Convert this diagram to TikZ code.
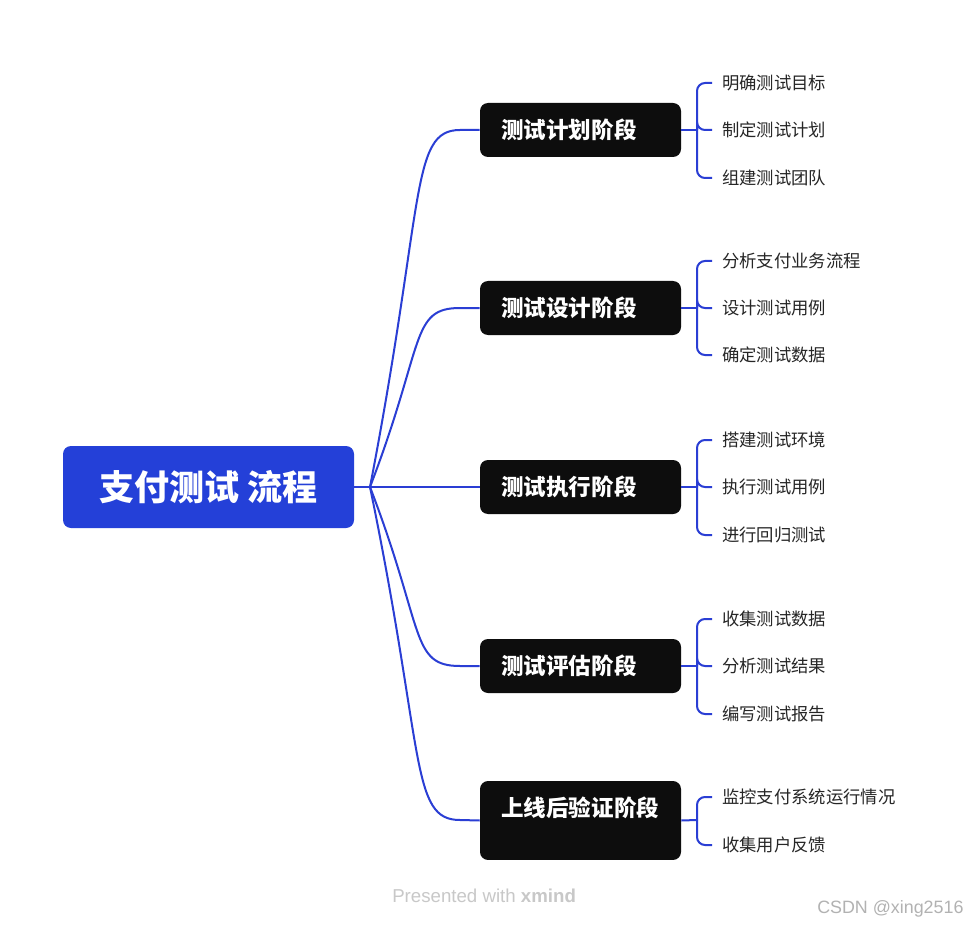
\documentclass[tikz,border=0pt]{standalone}
\usepackage{fontspec}
\setmainfont{Liberation Sans}
\newfontfamily\cjk{Noto Sans CJK SC}
\definecolor{xblue}{RGB}{36,64,216}
\definecolor{xline}{RGB}{42,62,212}
\definecolor{xdark}{RGB}{13,13,13}
\definecolor{xtext}{RGB}{38,38,38}
\tikzset{
  rootbox/.style={fill=xblue, rounded corners=6pt, minimum width=218.25pt,
    minimum height=61.5pt, inner sep=0pt, text=white,
    font=\cjk\bfseries\fontsize{26.3}{30}\selectfont},
  stagebox/.style={fill=xdark, rounded corners=6pt, minimum width=150.75pt,
    minimum height=40.5pt, inner xsep=16pt, inner ysep=0pt, text width=118.75pt,
    align=left, text=white, font=\cjk\bfseries\fontsize{16.9}{20}\selectfont},
  task/.style={anchor=west, inner xsep=7.5pt, inner ysep=2pt, text=xtext,
    font=\cjk\fontsize{13}{15}\selectfont},
  link/.style={draw=xline, line width=1.5pt},
  credit/.style={anchor=west, inner sep=0pt, font=\fontsize{14}{16}\selectfont}
}
\begin{document}
\begin{tikzpicture}[x=0.75pt,y=-0.75pt]
\fill[white] (0,0) rectangle (967,927);
\useasboundingbox (0,0) rectangle (967,927);
% centre and phases
\node[rootbox] (root) at (208.5,487) {支付测试 流程};
\coordinate (rj) at (370,487);
\node[stagebox] (s1) at (580.5,130) {测试计划阶段};
\node[stagebox] (s2) at (580.5,308) {测试设计阶段};
\node[stagebox] (s3) at (580.5,487) {测试执行阶段};
\node[stagebox] (s4) at (580.5,666) {测试评估阶段};
\node[stagebox, text height=26.6pt, text depth=32.6pt] (s5) at (580.5,820.5) {上线后验证阶段};
% tasks
\node[task] (s1a) at (712,83) {明确测试目标};
\node[task] (s1b) at (712,130) {制定测试计划};
\node[task] (s1c) at (712,178) {组建测试团队};
\node[task] (s2a) at (712,261) {分析支付业务流程};
\node[task] (s2b) at (712,308) {设计测试用例};
\node[task] (s2c) at (712,355) {确定测试数据};
\node[task] (s3a) at (712,440) {搭建测试环境};
\node[task] (s3b) at (712,487) {执行测试用例};
\node[task] (s3c) at (712,535) {进行回归测试};
\node[task] (s4a) at (712,619) {收集测试数据};
\node[task] (s4b) at (712,666) {分析测试结果};
\node[task] (s4c) at (712,714) {编写测试报告};
\node[task] (s5a) at (712,797) {监控支付系统运行情况};
\node[task] (s5b) at (712,845) {收集用户反馈};
% joints of the brackets
\coordinate (j1) at (697,130);
\coordinate (j2) at (697,308);
\coordinate (j3) at (697,487);
\coordinate (j4) at (697,666);
\coordinate (j5) at (697,820);
% connectors
\draw[link] (root.east) -- (rj);
\foreach \i/\yy in {1/130,2/308,3/487,4/666,5/820}
  \draw[link] (rj) .. controls +(55,{0.8*(\yy-487)}) and (410,\yy) .. (460,\yy) -- (s\i.west);
\foreach \i in {1,...,5}
  \draw[link] (s\i.east) -- (j\i);
\foreach \i/\c in {1/a,1/b,1/c,2/a,2/b,2/c,3/a,3/b,3/c,4/a,4/b,4/c,5/a,5/b}
  \draw[link, rounded corners=6pt] (j\i) |- (s\i\c.west);
% footer
\node[credit, text={rgb,255:red,200;green,200;blue,200}] (brand) at (392,896) {Presented with \textbf{xmind}};
\node[credit, text={rgb,255:red,178;green,178;blue,178}, font=\fontsize{13.4}{16}\selectfont] (csdn) at (817,909) {CSDN @xing2516};
\end{tikzpicture}
\end{document}
